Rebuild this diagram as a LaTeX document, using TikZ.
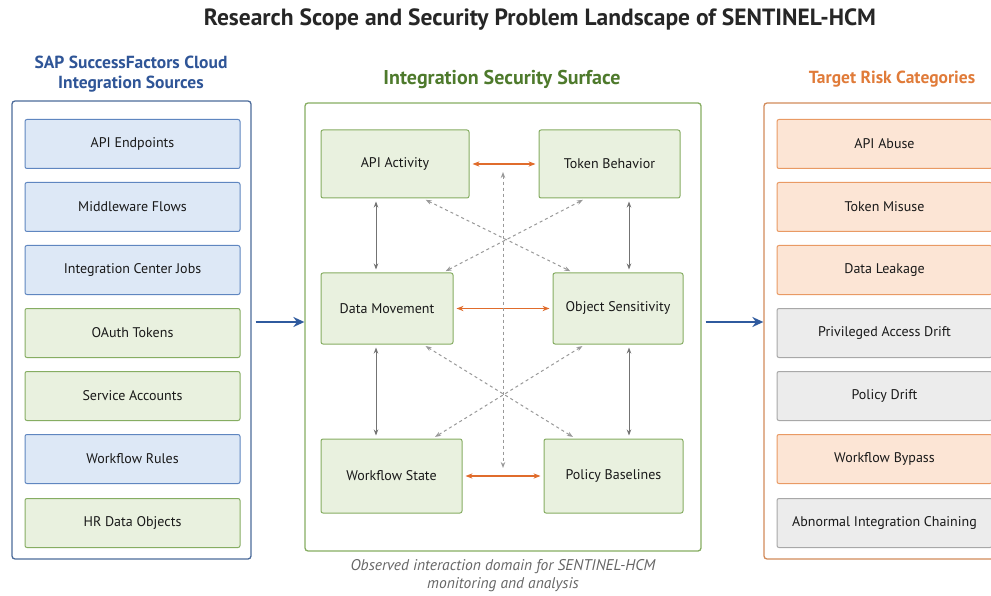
\documentclass[tikz,border=0pt]{standalone}
\usepackage{fontspec}
\setmainfont{PT Sans}
\usetikzlibrary{arrows.meta}

\definecolor{bluehead}{HTML}{2F5597}
\definecolor{blueedge}{HTML}{5F86C0}
\definecolor{bluefill}{HTML}{DDE8F6}
\definecolor{bluearrow}{HTML}{2F5A9E}
\definecolor{greenhead}{HTML}{4E7A2C}
\definecolor{greenedge}{HTML}{86AD62}
\definecolor{greenfill}{HTML}{E9F1DF}
\definecolor{orangehead}{HTML}{E07B39}
\definecolor{orangeedge}{HTML}{E99A64}
\definecolor{orangefill}{HTML}{FCE5D5}
\definecolor{grayedge}{HTML}{A8A8A8}
\definecolor{grayfill}{HTML}{ECECEC}
\definecolor{linkorange}{HTML}{E06C2C}

\tikzset{
  item/.style={rounded corners=2pt, line width=1pt, text=black!90, minimum width=215, minimum height=49,
    font=\fontsize{14}{16}\selectfont},
  bluebox/.style={item, draw=blueedge, fill=bluefill},
  greenbox/.style={item, draw=greenedge, fill=greenfill},
  orangebox/.style={item, draw=orangeedge, fill=orangefill},
  graybox/.style={item, draw=grayedge, fill=grayfill},
  surf/.style={greenbox, minimum height=70},
  panel/.style={draw, line width=1.3pt, rounded corners=3pt, fill=white},
  head/.style={font=\fontsize{17.5}{20}\selectfont\bfseries, align=center},
  pairlink/.style={{Stealth[length=7pt]}-{Stealth[length=7pt]}, linkorange, line width=1.6pt, shorten <=3, shorten >=3},
  vlink/.style={{Stealth[length=6pt]}-{Stealth[length=6pt]}, black!55, line width=1pt, shorten <=3, shorten >=3},
  crosslink/.style={{Stealth[length=6pt]}-{Stealth[length=6pt]}, black!40, dashed, line width=1pt, shorten <=3, shorten >=3},
  flow/.style={-{Stealth[length=11pt,width=10pt]}, bluearrow, line width=2pt}
}

\begin{document}
\begin{tikzpicture}[x=1pt, y=-1pt]
  \clip (0,0) rectangle (991,596);
  \useasboundingbox (0,0) rectangle (991,596);

  \node[font=\fontsize{23.5}{26}\selectfont\bfseries, text=black!85] (title) at (540,20)
    {Research Scope and Security Problem Landscape of SENTINEL-HCM};

  % sources
  \node[head, text=bluehead] (srchead) at (131,74) {SAP SuccessFactors Cloud\\Integration Sources};
  \node[panel, draw=blueedge!80!black, minimum width=239, minimum height=458] (srcpanel) at (131.5,330) {};
  \node[bluebox] (endpoints) at (132.5,144) {API Endpoints};
  \node[bluebox] (middleware) at (132.5,207) {Middleware Flows};
  \node[bluebox] (jobs) at (132.5,270) {Integration Center Jobs};
  \node[greenbox] (oauth) at (132.5,333) {OAuth Tokens};
  \node[greenbox] (accounts) at (132.5,396) {Service Accounts};
  \node[bluebox] (rules) at (132.5,459) {Workflow Rules};
  \node[greenbox] (hrdata) at (132.5,523) {HR Data Objects};

  % surface
  \node[head, font=\fontsize{20}{22}\selectfont\bfseries, text=greenhead] (surfhead) at (502,79) {Integration Security Surface};
  \node[panel, draw=greenedge, minimum width=396, minimum height=448] (surfpanel) at (503,327) {};
  \node[surf, minimum width=148, minimum height=68] (api) at (395,164) {API Activity};
  \node[surf, minimum width=141, minimum height=68] (token) at (609.5,164) {Token Behavior};
  \node[surf, minimum width=132, minimum height=71] (data) at (387,308.5) {Data Movement};
  \node[surf, minimum width=130, minimum height=71] (object) at (618,308.5) {Object Sensitivity};
  \node[surf, minimum width=141, minimum height=74] (workflow) at (391.5,476) {Workflow State};
  \node[surf, minimum width=139, minimum height=74] (policy) at (613.5,476) {Policy Baselines};
  \node[font=\fontsize{15.5}{18}\selectfont\itshape, text=black!60, align=center] (caption) at (503,576)
    {Observed interaction domain for SENTINEL-HCM\\monitoring and analysis};

  \coordinate (laneL) at (376,0);
  \coordinate (laneR) at (629,0);
  \coordinate (vtop) at (503,172);
  \coordinate (vbot) at (503,468);

  \draw[pairlink] (api) -- (token);
  \draw[pairlink] (data) -- (object);
  \draw[pairlink] (workflow) -- (policy);
  \draw[vlink] (api.south -| laneL) -- (data.north -| laneL);
  \draw[vlink] (data.south -| laneL) -- (workflow.north -| laneL);
  \draw[vlink] (token.south -| laneR) -- (object.north -| laneR);
  \draw[vlink] (object.south -| laneR) -- (policy.north -| laneR);
  \draw[crosslink] ([xshift=28]api.south) -- ([xshift=-45]object.north);
  \draw[crosslink] ([xshift=-24]token.south) -- ([xshift=56]data.north);
  \draw[crosslink] ([xshift=36]data.south) -- ([xshift=-38]policy.north);
  \draw[crosslink] ([xshift=-33]object.south) -- ([xshift=41]workflow.north);
  \draw[crosslink, shorten <=0, shorten >=0] (vtop) -- (vbot);

  % risks
  \node[head, text=orangehead] (riskhead) at (892,79) {Target Risk Categories};
  \node[panel, draw=orangeedge!90!black, minimum width=239, minimum height=456] (riskpanel) at (883.5,331) {};
  \node[orangebox] (abuse) at (884.5,144) {API Abuse};
  \node[orangebox] (misuse) at (884.5,207) {Token Misuse};
  \node[orangebox] (leakage) at (884.5,270) {Data Leakage};
  \node[graybox] (privdrift) at (884.5,333) {Privileged Access Drift};
  \node[graybox] (poldrift) at (884.5,396) {Policy Drift};
  \node[orangebox] (bypass) at (884.5,459) {Workflow Bypass};
  \node[graybox] (chaining) at (884.5,523) {Abnormal Integration Chaining};

  \draw[flow] ([yshift=8]srcpanel.east) ++(4,0) -- ([yshift=5]surfpanel.west);
  \draw[flow] ([yshift=5]surfpanel.east) ++(4,0) -- ([yshift=9]riskpanel.west);
\end{tikzpicture}
\end{document}
